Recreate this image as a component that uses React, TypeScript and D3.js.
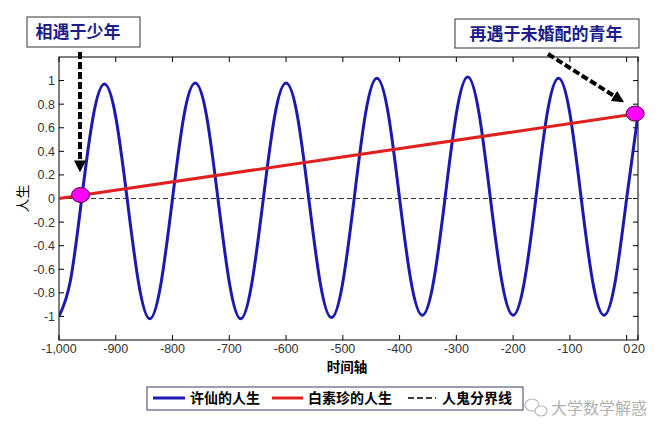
import React from "react";
import * as d3 from "d3";

// ---------- data ----------
const xTicks = [-1000, -900, -800, -700, -600, -500, -400, -300, -200, -100, 0, 20];
const xTickLabels = ["-1,000", "-900", "-800", "-700", "-600", "-500", "-400", "-300", "-200", "-100", "0", "20"];
const yTicks = [-1, -0.8, -0.6, -0.4, -0.2, 0, 0.2, 0.4, 0.6, 0.8, 1];
const yTickLabels = ["-1", "-0.8", "-0.6", "-0.4", "-0.2", "0", "0.2", "0.4", "0.6", "0.8", "1"];

// 许仙的人生 sampled every 20 time units from -1000
const xuStart = -1000;
const xuStep = 20;
const xuValues = [
  -1.0, -0.7, 0, 0.69, 0.97, 0.69, 0, -0.71,
  -1.02, -0.71, 0, 0.7, 0.98, 0.7, 0, -0.71,
  -1.02, -0.71, 0, 0.7, 0.98, 0.7, 0, -0.71,
  -1.01, -0.71, 0, 0.72, 1.02, 0.72, 0, -0.7,
  -0.99, -0.7, 0, 0.72, 1.03, 0.72, 0, -0.7,
  -0.99, -0.7, 0, 0.72, 1.02, 0.72, 0, -0.7,
  -0.99, -0.7, 0, 0.71,
];
// 白素珍的人生
const baiT = [-1000, 20];
const baiV = [0, 0.72];
// 人鬼分界线
const borderT = [-1000, 20];
const borderV = [0, 0];
// meeting points
const meetT = [-962, 15];
const meetV = [0.03, 0.72];

const legendLabels = ["许仙的人生", "白素珍的人生", "人鬼分界线"];
const note1 = "相遇于少年";
const note2 = "再遇于未婚配的青年";

// ---------- layout ----------
const W = 658, H = 430;
const L = 59, R = 638, T = 57, B = 340;

export default function App() {
  const x = d3.scaleLinear().domain([-1000, 20]).range([L, R]);
  const y = d3.scaleLinear().domain([-1.2, 1.2]).range([B, T]);

  const xuPts: [number, number][] = xuValues.map((v, i) => [xuStart + i * xuStep, v]);
  const line = d3.line<[number, number]>().x(d => x(d[0])).y(d => y(d[1])).curve(d3.curveNatural);
  const straight = d3.line<[number, number]>().x(d => x(d[0])).y(d => y(d[1]));

  const bai: [number, number][] = baiT.map((t, i) => [t, baiV[i]]);
  const border: [number, number][] = borderT.map((t, i) => [t, borderV[i]]);

  const tickFont = "'Liberation Sans', Arial, sans-serif";
  const cjk = "'Noto Sans CJK SC', sans-serif";
  const blue = "#1a1ab0";
  const red = "#e0201e";
  const textBlue = "#1c1c8a";

  const tl = 5;

  return (
    <svg width={W} height={H} style={{ position: "absolute", left: 0, top: 0, background: "#fff" }}>
      <defs>
        <clipPath id="plot">
          <rect x={L} y={T} width={R - L} height={B - T} />
        </clipPath>
        <marker id="ah" viewBox="0 0 10 10" refX="8" refY="5" markerWidth="3" markerHeight="3" orient="auto">
          <path d="M0,0 L10,5 L0,10 z" fill="#000" />
        </marker>
      </defs>

      {/* axes box */}
      <rect x={L} y={T} width={R - L} height={B - T} fill="#fff" stroke="#000" strokeWidth={1} />

      {/* x ticks */}
      {xTicks.map((t, i) => (
        <g key={"xt" + i}>
          <line x1={x(t)} x2={x(t)} y1={B} y2={B - tl} stroke="#000" strokeWidth={1} />
          <line x1={x(t)} x2={x(t)} y1={T} y2={T + tl} stroke="#000" strokeWidth={1} />
          <text x={x(t)} y={353} textAnchor="middle" fontFamily={tickFont} fontSize={12.5} fill="#333">
            {xTickLabels[i]}
          </text>
        </g>
      ))}
      {/* y ticks */}
      {yTicks.map((v, i) => (
        <g key={"yt" + i}>
          <line x1={L} x2={L + tl} y1={y(v)} y2={y(v)} stroke="#000" strokeWidth={1} />
          <line x1={R} x2={R - tl} y1={y(v)} y2={y(v)} stroke="#000" strokeWidth={1} />
          <text x={55} y={y(v) + 4.5} textAnchor="end" fontFamily={tickFont} fontSize={12.5} fill="#333">
            {yTickLabels[i]}
          </text>
        </g>
      ))}

      {/* series */}
      <g clipPath="url(#plot)">
        <path d={straight(border) || ""} fill="none" stroke="#333" strokeWidth={1} strokeDasharray="5,3" />
        <path d={line(xuPts) || ""} fill="none" stroke={blue} strokeWidth={3} />
      </g>
      <path d={straight(bai) || ""} fill="none" stroke={red} strokeWidth={3} />

      {/* meeting points */}
      {meetT.map((t, i) => (
        <ellipse key={"m" + i} cx={x(t)} cy={y(meetV[i])} rx={9} ry={7.5} fill="#ff00ff" stroke="#5a0030" strokeWidth={1} />
      ))}

      {/* axis labels */}
      <text x={347} y={372} textAnchor="middle" fontFamily={cjk} fontWeight="bold" fontSize={13.5} fill="#000">时间轴</text>
      <text transform={`translate(28,${(T + B) / 2}) rotate(-90)`} textAnchor="middle" fontFamily={cjk} fontSize={14} fill="#000">人生</text>

      {/* annotations */}
      <rect x={27} y={17} width={113} height={30} fill="#fff" stroke="#333" strokeWidth={1} />
      <text x={78} y={38} textAnchor="middle" fontFamily={cjk} fontWeight="bold" fontSize={17} fill={textBlue}>{note1}</text>
      <line x1={80} y1={52} x2={80} y2={170} stroke="#000" strokeWidth={4} strokeDasharray="7,3" markerEnd="url(#ah)" />

      <rect x={455} y={19} width={184} height={29} fill="#fff" stroke="#333" strokeWidth={1} />
      <text x={546} y={40} textAnchor="middle" fontFamily={cjk} fontWeight="bold" fontSize={17} fill={textBlue}>{note2}</text>
      <line x1={548} y1={54} x2={622} y2={101} stroke="#000" strokeWidth={4} strokeDasharray="7,3" markerEnd="url(#ah)" />

      {/* legend */}
      <rect x={147} y={387} width={376} height={23} fill="#fff" stroke="#3a3a6a" strokeWidth={1} />
      <line x1={153} x2={185} y1={398} y2={398} stroke={blue} strokeWidth={3} />
      <text x={190} y={403} fontFamily={cjk} fontWeight="bold" fontSize={14} fill="#000">{legendLabels[0]}</text>
      <line x1={272} x2={303} y1={398} y2={398} stroke={red} strokeWidth={3} />
      <text x={308} y={403} fontFamily={cjk} fontWeight="bold" fontSize={14} fill="#000">{legendLabels[1]}</text>
      <line x1={408} x2={436} y1={398} y2={398} stroke="#000" strokeWidth={1.5} strokeDasharray="6,3" />
      <text x={442} y={403} fontFamily={cjk} fontWeight="bold" fontSize={14} fill="#000">{legendLabels[2]}</text>

      {/* watermark */}
      <g stroke="#b8b8b8" fill="none" strokeWidth={1.2}>
        <ellipse cx={532} cy={405} rx={7} ry={6} />
        <ellipse cx={541} cy={411} rx={6} ry={5} fill="#fff" />
      </g>
      <text x={551} y={414} fontFamily={cjk} fontSize={16} fill="#b0b0b0">大学数学解惑</text>
    </svg>
  );
}
